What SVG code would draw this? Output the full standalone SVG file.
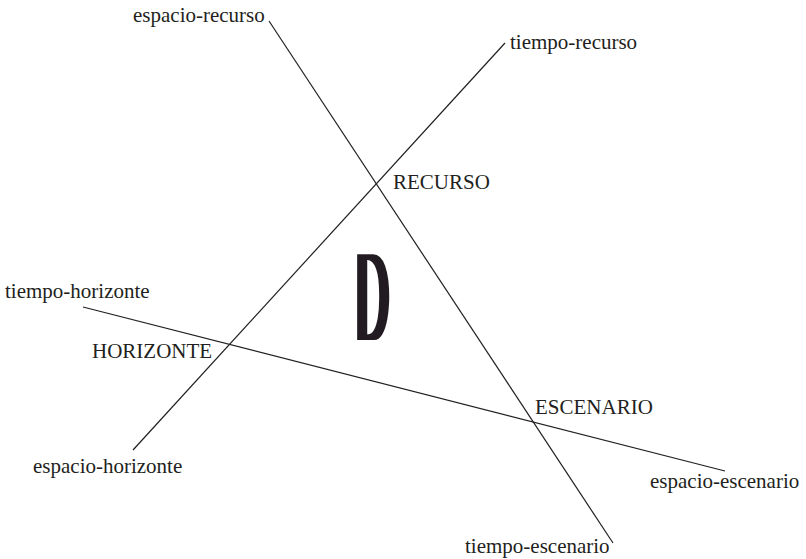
<svg xmlns="http://www.w3.org/2000/svg" width="806" height="559" viewBox="0 0 806 559">
<style>
.lbl{font-family:"Liberation Serif","Times New Roman",serif;font-size:21px;fill:#231f20}
.ln{stroke:#231f20;stroke-width:1.2;fill:none}
.big{font-family:"Liberation Sans",Arial,sans-serif;font-size:130px;fill:#231f20}
</style>
<defs>
<filter id="cond" x="-50%" y="-20%" width="200%" height="140%">
<feMorphology operator="erode" radius="0 1.5" result="a"/>
<feMorphology in="a" operator="dilate" radius="3 0"/>
</filter>
</defs>
<rect width="806" height="559" fill="#ffffff"/>
<g id="connectors">
<line class="ln" x1="269" y1="21" x2="613" y2="543"/>
<line class="ln" x1="505" y1="43" x2="133" y2="450"/>
<line class="ln" x1="83" y1="307" x2="725" y2="471"/>
</g>
<g id="espacio-recurso"><text class="lbl" x="133" y="22">espacio-recurso</text></g>
<g id="tiempo-recurso"><text class="lbl" x="510" y="49">tiempo-recurso</text></g>
<g id="recurso"><text class="lbl" x="393" y="189">RECURSO</text></g>
<g id="tiempo-horizonte"><text class="lbl" x="5" y="298">tiempo-horizonte</text></g>
<g id="horizonte"><text class="lbl" x="92" y="358">HORIZONTE</text></g>
<g id="espacio-horizonte"><text class="lbl" x="33" y="473">espacio-horizonte</text></g>
<g id="escenario"><text class="lbl" x="535" y="414">ESCENARIO</text></g>
<g id="espacio-escenario"><text class="lbl" x="650" y="488">espacio-escenario</text></g>
<g id="tiempo-escenario"><text class="lbl" x="465" y="553">tiempo-escenario</text></g>
<g id="D" filter="url(#cond)"><text class="big" transform="translate(360,341.5) scale(0.34,1)" x="-10.3" y="0">D</text></g>
</svg>
